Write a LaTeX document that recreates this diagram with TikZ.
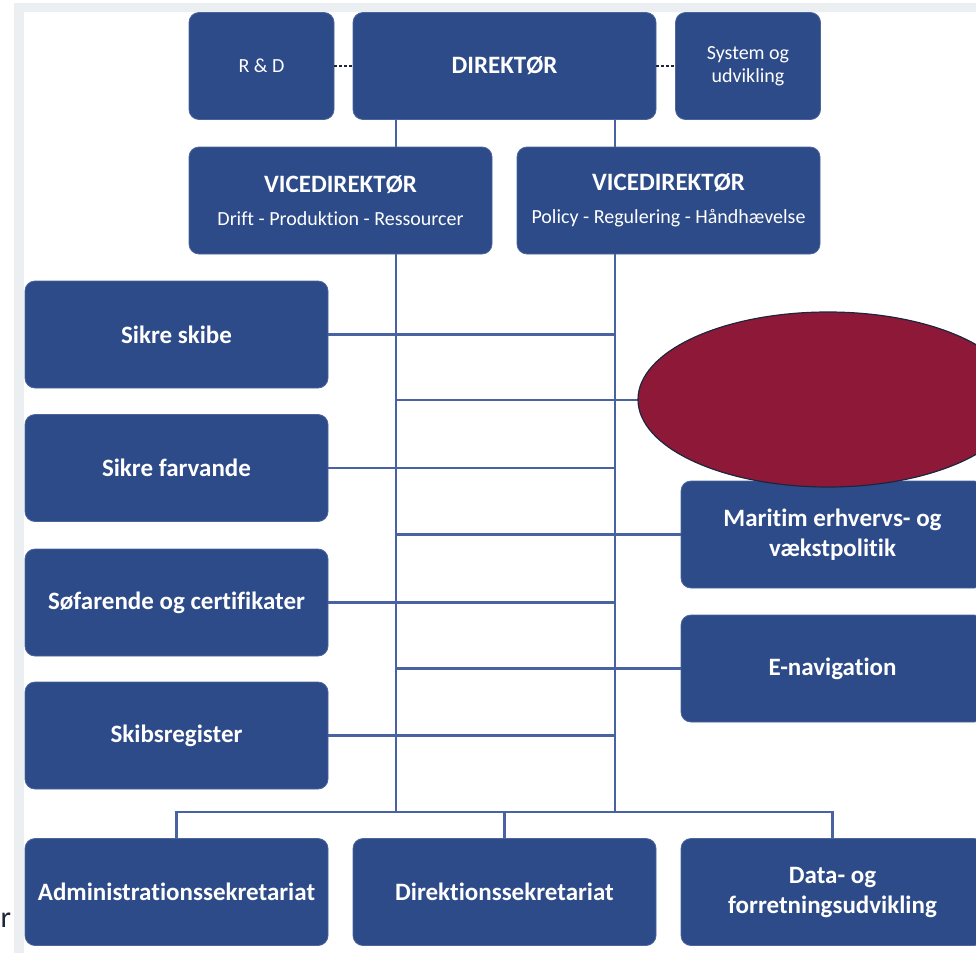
\documentclass[tikz,border=0pt]{standalone}
\usepackage{fontspec}
\setmainfont[Ligatures=NoCommon]{Carlito}
\usetikzlibrary{shapes.geometric}
\definecolor{unitblue}{RGB}{45,74,137}
\definecolor{wireblue}{RGB}{72,98,162}
\definecolor{blotred}{RGB}{142,24,56}
\definecolor{blotedge}{RGB}{30,38,62}
\definecolor{framegray}{RGB}{236,239,241}

\begin{document}
\begin{tikzpicture}[x=1pt, y=-1pt,
  orgbox/.style={rectangle, rounded corners=10pt, fill=unitblue, draw=unitblue!85!white, line width=0.8pt, text=white, align=center, minimum width=303pt, minimum height=107pt, inner sep=2pt, font=\fontsize{25}{30}\selectfont\bfseries},
  sidebox/.style={orgbox, minimum width=145pt, font=\fontsize{20}{23}\selectfont},
  wire/.style={draw=wireblue, line width=2.2pt},
  dotwire/.style={draw=blotedge, line width=2pt, dash pattern=on 3pt off 2pt}]
  \useasboundingbox (0,0) rectangle (976,953);
  \clip (0,0) rectangle (976,953);
  \fill[framegray] (14,3) rectangle (976,12);
  \fill[framegray] (14,3) rectangle (24,953);

  \node[sidebox] (rd) at (261.5,66) {R \& D};
  \node[orgbox] (dir) at (504.5,66) {DIREKTØR};
  \node[sidebox] (sys) at (748,66) {System og\\udvikling};
  \node[orgbox] (vl) at (340.5,200.5) {VICEDIREKTØR\\[3pt]{\fontsize{20}{23}\selectfont\mdseries Drift - Produktion - Ressourcer}};
  \node[orgbox] (vr) at (668.5,200.5) {VICEDIREKTØR\\[3pt]{\fontsize{20}{23}\selectfont\mdseries Policy - Regulering - Håndhævelse}};

  \node[orgbox] (skibe) at (176.5,334.5) {Sikre skibe};
  \node[orgbox] (farvande) at (176.5,468) {Sikre farvande};
  \node[orgbox] (sofarende) at (176.5,602.5) {Søfarende og certifikater};
  \node[orgbox] (register) at (176.5,735.5) {Skibsregister};

  \node[orgbox] (covered) at (832.5,400) {};
  \node[orgbox] (maritim) at (832.5,534.5) {Maritim erhvervs- og\\vækstpolitik};
  \node[orgbox] (enav) at (832.5,668.5) {E-navigation};

  \node[orgbox] (admin) at (176.5,892) {Administrationssekretariat};
  \node[orgbox] (direk) at (504.5,892) {Direktionssekretariat};
  \node[orgbox] (data) at (832.5,892) {Data- og\\forretningsudvikling};

  \coordinate (trunkL) at (396,812);
  \coordinate (trunkR) at (615,812);

  \draw[dotwire] (rd.east) -- (dir.west);
  \draw[dotwire] (dir.east) -- (sys.west);
  \draw[wire] (dir.south -| trunkL) -- (vl.north -| trunkL);
  \draw[wire] (dir.south -| trunkR) -- (vr.north -| trunkR);
  \draw[wire] (vl.south -| trunkL) -- (trunkL);
  \draw[wire] (vr.south -| trunkR) -- (trunkR);
  \draw[wire] (skibe.east) -- (skibe.east -| trunkR);
  \draw[wire] (farvande.east) -- (farvande.east -| trunkR);
  \draw[wire] (sofarende.east) -- (sofarende.east -| trunkR);
  \draw[wire] (register.east) -- (register.east -| trunkR);
  \draw[wire] (covered.west) -- (covered.west -| trunkL);
  \draw[wire] (maritim.west) -- (maritim.west -| trunkL);
  \draw[wire] (enav.west) -- (enav.west -| trunkL);
  \draw[wire] (admin.north) -- (admin.north |- trunkL) -- (data.north |- trunkL) -- (data.north);
  \draw[wire] (direk.north) -- (direk.north |- trunkL);

  \node[ellipse, fill=blotred, draw=blotedge, line width=1.2pt, minimum width=380pt, minimum height=175pt] (blot) at (828,399.5) {};
  \node[text=blotedge, font=\fontsize{30}{34}\selectfont, anchor=base west, inner sep=0pt] (stray) at (0.5,927) {r};
\end{tikzpicture}
\end{document}
